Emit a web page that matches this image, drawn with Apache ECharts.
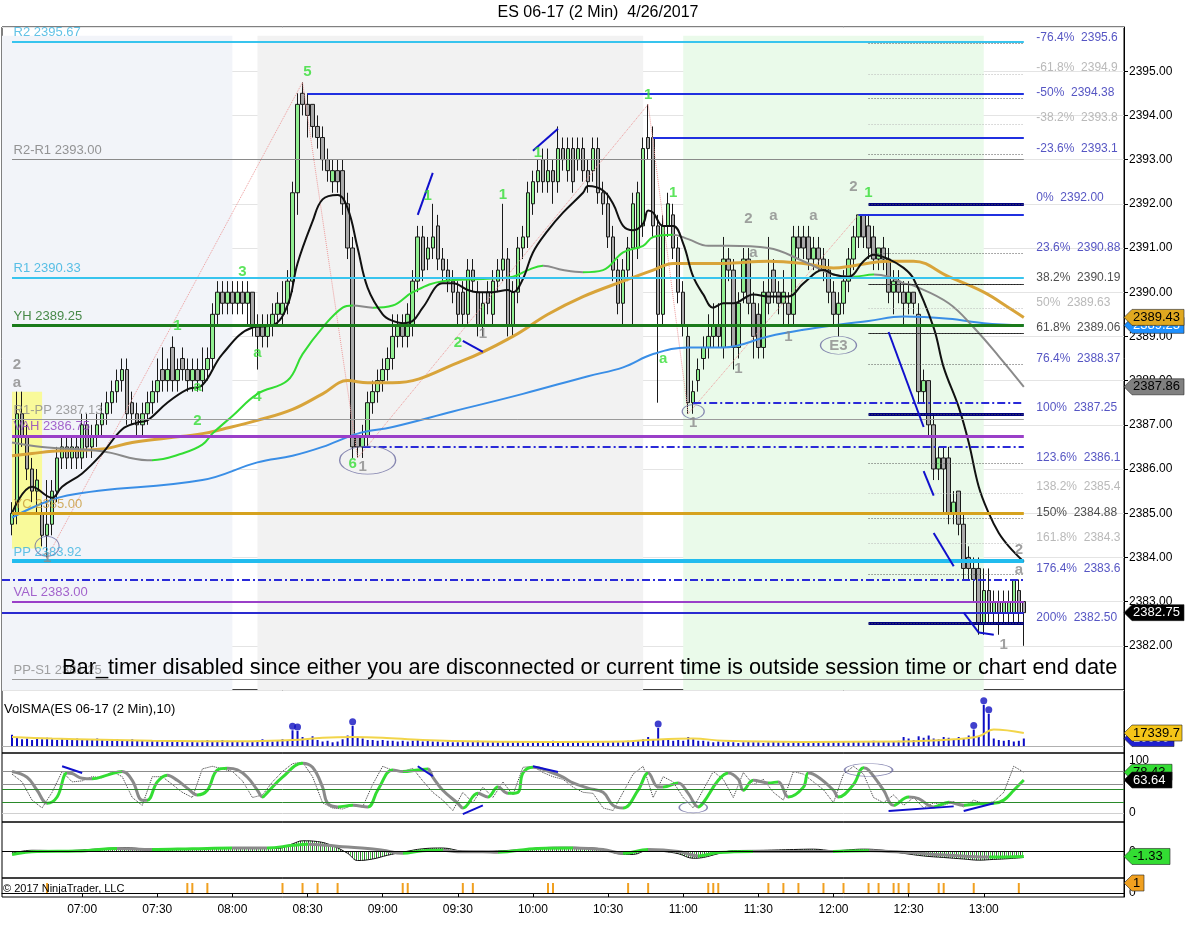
<!DOCTYPE html>
<html><head><meta charset="utf-8">
<script src="https://cdn.jsdelivr.net/npm/echarts@6/dist/echarts.min.js"></script>
<style>html,body{margin:0;padding:0;background:#fff}#c{width:1203px;height:952px}</style>
</head><body><div id="c"></div>
<script>
// ---------------- DATA ----------------
const sessionStart = '06:28';          // first category (2-minute bars)
const barCount = 225;
const firstBar = 2;                    // index of 06:32 bar
// [open, high, low, close] for each 2-min bar from 06:32
const ohlc = [
[2384.75,2385.25,2384.5,2385.0],[2385.0,2387.75,2384.75,2387.25],[2387.25,2387.75,2386.5,2386.75],[2386.75,2387.0,2385.75,2386.0],
[2386.0,2386.25,2385.25,2385.5],[2385.5,2386.0,2385.0,2385.75],[2385.0,2385.25,2384.25,2384.5],[2384.5,2385.75,2384.0,2384.75],
[2384.75,2385.75,2384.5,2385.5],[2385.5,2386.5,2385.25,2386.25],[2386.25,2386.75,2386.0,2386.5],[2386.5,2386.75,2386.0,2386.25],
[2386.25,2386.75,2386.0,2386.5],[2386.5,2386.75,2386.0,2386.25],[2386.25,2387.25,2386.0,2387.0],[2387.0,2387.25,2386.25,2386.5],
[2386.5,2387.0,2386.25,2386.75],[2386.75,2387.25,2386.5,2387.0],[2387.0,2387.5,2386.75,2387.25],[2387.25,2387.75,2387.0,2387.5],
[2387.5,2388.0,2387.25,2387.75],[2387.75,2388.25,2387.5,2388.0],[2388.0,2388.5,2387.75,2388.25],[2388.25,2388.5,2387.0,2387.25],
[2387.5,2387.75,2387.0,2387.25],[2387.25,2387.5,2386.75,2387.0],[2387.0,2387.5,2386.75,2387.25],[2387.25,2387.75,2387.0,2387.5],
[2387.5,2388.0,2387.25,2387.75],[2387.75,2388.5,2387.5,2388.0],[2388.25,2388.75,2387.75,2388.0],[2388.0,2388.5,2387.75,2388.25],
[2388.75,2389.0,2387.75,2388.0],[2388.0,2388.5,2387.75,2388.25],[2388.5,2388.75,2388.0,2388.25],[2388.25,2388.5,2387.75,2388.0],
[2388.0,2388.5,2387.75,2388.25],[2388.25,2388.5,2387.75,2388.0],[2388.0,2388.75,2387.75,2388.25],[2388.25,2388.75,2388.0,2388.5],
[2388.5,2389.75,2388.25,2389.5],[2389.5,2390.25,2389.25,2390.0],[2390.0,2390.25,2389.5,2389.75],[2389.75,2390.25,2389.5,2390.0],
[2390.0,2390.25,2389.5,2389.75],[2389.75,2390.25,2389.5,2390.0],[2390.0,2390.25,2389.5,2389.75],[2389.75,2390.25,2389.25,2390.0],
[2390.0,2390.0,2389.0,2389.25],[2389.25,2389.5,2388.25,2389.0],[2389.25,2389.5,2388.75,2389.0],[2389.0,2389.5,2388.75,2389.25],
[2389.25,2389.75,2389.0,2389.5],[2389.5,2390.0,2389.25,2389.75],[2389.5,2390.25,2389.25,2389.75],[2389.75,2390.5,2389.5,2390.25],
[2390.25,2392.5,2390.0,2392.25],[2392.25,2394.5,2391.75,2394.25],[2394.5,2394.75,2394.0,2394.25],[2394.25,2394.5,2393.5,2394.0],
[2394.25,2394.25,2393.5,2393.75],[2393.75,2394.0,2393.25,2393.5],[2393.5,2393.75,2392.75,2393.0],[2393.0,2393.25,2392.5,2392.75],
[2392.5,2393.0,2392.25,2392.75],[2392.75,2393.0,2392.25,2392.5],[2392.75,2393.0,2391.75,2392.0],[2392.0,2392.25,2390.75,2391.0],
[2391.0,2391.25,2386.25,2386.5],[2386.75,2386.75,2386.25,2386.5],[2386.5,2387.0,2386.25,2386.75],[2386.75,2387.75,2386.5,2387.5],
[2387.5,2388.0,2387.25,2387.75],[2387.75,2388.25,2387.5,2388.0],[2388.0,2388.5,2387.75,2388.25],[2388.25,2388.75,2388.0,2388.5],
[2388.5,2389.5,2388.25,2389.0],[2389.0,2389.5,2388.75,2389.25],[2389.25,2389.5,2388.75,2389.0],[2389.0,2389.75,2388.75,2389.5],
[2389.25,2390.5,2389.0,2390.25],[2390.25,2391.5,2390.0,2391.25],[2391.25,2391.5,2390.25,2390.5],[2390.75,2391.25,2390.5,2391.0],
[2391.0,2392.0,2390.75,2391.25],[2391.5,2391.75,2390.5,2390.75],[2390.75,2391.0,2390.25,2390.5],[2390.5,2390.75,2390.0,2390.25],
[2390.25,2390.5,2389.75,2390.0],[2390.0,2390.25,2389.25,2389.5],[2390.0,2390.25,2389.25,2389.5],[2389.5,2390.75,2389.25,2390.5],
[2390.5,2390.75,2390.0,2390.25],[2390.0,2390.25,2389.0,2389.25],[2389.25,2390.0,2389.0,2389.75],[2390.0,2390.25,2389.5,2389.75],
[2389.5,2390.5,2389.25,2390.25],[2390.25,2390.75,2390.0,2390.5],[2390.5,2392.0,2390.25,2390.75],[2390.75,2391.0,2389.0,2389.25],
[2389.25,2390.25,2389.0,2390.0],[2390.0,2391.25,2389.75,2391.0],[2391.0,2391.5,2390.75,2391.25],[2391.25,2392.5,2391.0,2392.25],
[2392.0,2392.75,2391.75,2392.5],[2392.5,2393.0,2392.25,2392.75],[2393.0,2393.25,2392.25,2392.5],[2392.5,2393.25,2392.25,2392.75],
[2392.75,2393.0,2392.0,2392.5],[2392.5,2393.75,2392.25,2393.25],[2393.25,2393.5,2392.75,2393.0],[2392.75,2393.5,2392.5,2393.25],
[2393.25,2393.5,2392.25,2392.5],[2393.0,2393.5,2392.75,2393.25],[2393.25,2393.5,2392.5,2392.75],[2392.75,2393.0,2392.25,2392.5],
[2392.75,2393.5,2392.5,2393.25],[2393.25,2393.5,2392.0,2392.25],[2392.25,2392.5,2391.75,2392.0],[2392.0,2392.25,2391.0,2391.25],
[2391.25,2391.5,2390.25,2390.5],[2390.5,2390.75,2389.5,2389.75],[2389.75,2390.75,2389.25,2390.5],[2390.5,2391.25,2390.25,2391.0],
[2391.0,2392.25,2389.25,2392.0],[2391.0,2392.5,2390.75,2392.25],[2391.5,2393.5,2391.25,2393.25],[2393.5,2394.25,2393.0,2393.25],
[2393.5,2393.75,2391.25,2391.5],[2391.5,2391.75,2387.5,2389.5],[2389.5,2391.75,2389.25,2391.5],[2391.5,2392.25,2391.25,2392.0],
[2391.75,2392.0,2390.75,2391.0],[2391.0,2391.25,2389.75,2390.0],[2390.0,2390.25,2389.0,2389.25],[2389.0,2389.25,2387.25,2387.5],
[2387.5,2388.0,2387.25,2387.75],[2388.0,2388.5,2387.75,2388.25],[2388.5,2389.0,2388.25,2388.75],[2388.75,2389.5,2388.5,2389.0],
[2389.0,2389.75,2388.75,2389.25],[2389.25,2389.75,2388.75,2389.0],[2388.75,2391.25,2388.5,2390.75],[2390.75,2391.0,2390.25,2390.5],
[2390.5,2390.75,2388.25,2388.75],[2388.75,2390.0,2388.5,2389.75],[2390.0,2391.0,2389.75,2390.75],[2390.75,2391.0,2389.5,2389.75],
[2389.75,2390.0,2388.5,2389.0],[2389.5,2389.75,2388.5,2388.75],[2388.75,2390.25,2388.5,2390.0],[2390.0,2391.25,2389.5,2389.75],
[2390.5,2390.75,2389.75,2390.0],[2390.0,2390.25,2389.5,2389.75],[2389.75,2390.5,2389.25,2390.0],[2389.75,2390.0,2389.25,2389.5],
[2389.5,2391.5,2389.25,2391.25],[2391.25,2391.5,2390.75,2391.0],[2391.25,2391.5,2390.75,2391.0],[2391.25,2391.5,2390.5,2390.75],
[2390.75,2391.25,2390.5,2391.0],[2391.0,2391.25,2390.5,2390.75],[2390.75,2391.0,2390.25,2390.5],[2390.5,2390.75,2389.75,2390.0],
[2390.0,2390.25,2389.25,2389.5],[2389.5,2390.0,2389.0,2389.75],[2389.75,2390.5,2389.5,2390.25],[2390.25,2391.0,2390.0,2390.75],
[2390.75,2391.5,2390.5,2391.25],[2391.25,2391.75,2391.0,2391.75],[2391.75,2391.75,2391.0,2391.25],[2391.5,2391.75,2390.75,2391.0],
[2391.25,2391.5,2390.5,2390.75],[2390.75,2391.0,2390.5,2391.0],[2391.0,2391.25,2390.5,2390.75],[2390.75,2391.0,2389.75,2390.0],
[2390.0,2390.5,2389.5,2390.25],[2390.25,2390.5,2389.75,2390.0],[2390.0,2390.25,2389.25,2389.75],[2389.75,2390.25,2389.5,2390.0],
[2390.0,2390.0,2389.5,2389.75],[2389.5,2389.75,2387.5,2387.75],[2387.75,2388.25,2387.5,2388.0],[2388.0,2388.0,2386.75,2387.0],
[2387.0,2387.25,2385.75,2386.0],[2386.0,2386.5,2385.75,2386.25],[2386.25,2386.5,2385.0,2386.0],[2386.25,2386.5,2384.75,2385.0],
[2385.0,2385.5,2384.75,2385.25],[2385.5,2385.5,2384.5,2384.75],[2384.75,2385.0,2383.5,2383.75],[2384.0,2384.25,2383.5,2383.75],
[2383.75,2384.0,2383.0,2383.5],[2383.75,2384.0,2382.25,2382.5],[2382.5,2383.75,2382.25,2383.25],[2383.25,2383.75,2382.5,2382.75],
[2382.75,2383.25,2382.5,2383.0],[2383.0,2383.25,2382.25,2382.75],[2382.75,2383.25,2382.5,2383.0],[2382.75,2383.25,2382.5,2383.0],
[2382.75,2383.5,2382.5,2383.5],[2383.25,2383.5,2382.5,2382.75],[2383.0,2383.0,2382.0,2382.75]
];
const volume = [
15000,12000,9000,10000,8000,10000,9000,11000,9000,
8000,10000,9000,8000,10000,9000,8000,9000,10000,8000,
7000,8000,9000,8000,7000,9000,8000,7000,6000,7000,
7000,6000,8000,6000,7000,6000,5000,6000,5000,7000,
8000,6000,7000,8000,7000,6000,6000,6000,5000,6000,
7000,9000,8000,6000,8000,9000,7000,21000,20000,12000,
9000,13000,8000,6000,7000,5000,6000,9000,14000,27000,
12000,10000,8000,8000,7000,8000,7000,7000,6000,7000,
6000,7000,8000,6000,7000,6000,6000,5000,6000,5000,
5000,6000,5000,6000,7000,6000,5000,6000,5000,6000,
6000,5000,6000,5000,4000,5000,6000,5000,6000,7000,
6000,5000,6000,5000,6000,5000,5000,4000,5000,5000,
5000,6000,5000,6000,7000,6000,7000,9000,12000,8000,
24000,9000,8000,7000,8000,7000,12000,9000,7000,7000,
6000,5000,6000,5000,6000,5000,4000,5000,6000,5000,
5000,4000,5000,6000,5000,5000,4000,5000,6000,5000,
5000,4000,5000,5000,6000,5000,5000,6000,5000,6000,
6000,5000,6000,7000,6000,6000,5000,6000,7000,12000,
10000,8000,13000,11000,14000,10000,9000,12000,11000,9000,
12000,10000,14000,22000,13000,55000,43000,10000,8000,7000,
8000,6000,7000,10000
];
const volSpikeMin = 20000;
// moving averages [bar index, value]
const maBlack = [[2,2385.0],[6,2385.6],[10,2385.35],[12,2385.6],[16,2385.9],[20,2386.35],[24,2386.9],[27,2387.05],[29,2387.1],[33,2387.5],[37,2387.8],[40,2387.9],[44,2388.6],[50,2389.2],[54,2389.25],[57,2389.7],[59,2390.65],[62,2391.6],[64,2392.1],[67,2392.2],[69,2391.9],[71,2391.0],[73,2390.1],[76,2389.5],[78,2389.35],[80,2389.3],[82,2389.35],[84,2389.65],[88,2390.2],[90,2390.2],[93,2390.05],[95,2390.0],[98,2390.0],[101,2390.05],[102,2390.0],[104,2390.3],[106,2390.9],[109,2391.4],[112,2391.8],[116,2392.25],[117,2392.4],[120,2392.3],[122,2392.0],[124,2391.5],[126,2391.4],[128,2391.55],[129,2391.85],[130,2391.8],[132,2391.5],[134,2391.5],[136,2391.1],[138,2390.35],[140,2389.95],[142,2389.65],[144,2389.75],[146,2389.75],[150,2389.95],[153,2389.9],[157,2389.9],[160,2390.2],[164,2390.5],[166,2390.4],[169,2390.35],[172,2390.7],[174,2390.85],[177,2390.75],[180,2390.55],[182,2390.3],[186,2389.2],[188,2388.3],[191,2387.4],[193,2386.6],[195,2385.6],[197,2385.0],[199,2384.55],[201,2384.25],[204,2383.9]];
const maMid = [[2,2386.6],[8,2386.5],[20,2386.4],[29,2386.2],[30,2386.2],[36,2386.35],[40,2386.55],[42,2386.8],[46,2387.2],[51,2387.7],[57,2388.0],[60,2388.6],[64,2389.2],[68,2389.65],[70,2389.7],[74,2389.65],[78,2389.7],[82,2390.0],[88,2390.25],[96,2390.3],[102,2390.35],[105,2390.5],[108,2390.6],[112,2390.5],[116,2390.45],[120,2390.5],[124,2390.9],[128,2391.05],[130,2391.25],[134,2391.3],[137,2391.2],[141,2391.05],[145,2391.05],[153,2391.0],[160,2390.7],[166,2390.4],[170,2390.35],[174,2390.4],[177,2390.35],[180,2390.2],[182,2390.15],[189,2389.75],[194,2389.2],[199,2388.55],[204,2387.86]];
const maGold = [[2,2386.3],[6,2386.35],[10,2386.4],[20,2386.45],[26,2386.6],[33,2386.7],[40,2386.8],[44,2386.9],[51,2387.1],[58,2387.35],[64,2387.7],[69,2388.0],[73,2387.95],[78,2387.95],[92,2388.45],[102,2389.0],[109,2389.5],[116,2389.9],[124,2390.25],[130,2390.5],[134,2390.65],[144,2390.65],[153,2390.7],[160,2390.65],[166,2390.55],[170,2390.6],[177,2390.7],[182,2390.7],[189,2390.35],[196,2390.0],[201,2389.65],[204,2389.43]];
const maBlue = [[2,2384.9],[13,2385.4],[40,2385.75],[51,2386.15],[58,2386.3],[64,2386.5],[71,2386.8],[78,2386.95],[90,2387.3],[104,2387.7],[117,2388.1],[124,2388.3],[130,2388.6],[137,2388.75],[144,2388.75],[153,2389.0],[160,2389.15],[166,2389.25],[173,2389.35],[180,2389.45],[189,2389.4],[196,2389.3],[204,2389.25]];
const volSma = [[2,12000],[10,10000],[20,8500],[30,7000],[40,6500],[50,6500],[58,8000],[64,11000],[70,12000],[76,11000],[84,8000],[96,6000],[110,5500],[124,6000],[130,8500],[138,10000],[144,7000],[160,5500],[180,6000],[190,9000],[195,13000],[198,22000],[204,17339.7]];
const stochSlow = [[2,80],[5,69],[7,44],[9,19],[11,31],[13,77],[14,76],[16,67],[18,66],[21,73],[24,80],[26,63],[28,25],[29,25],[31,60],[33,73],[35,63],[37,48],[39,35],[41,44],[43,83],[45,86],[47,83],[49,69],[51,44],[52,31],[53,40],[56,69],[60,96],[62,88],[64,50],[65,19],[67,12],[70,15],[73,12],[75,44],[78,83],[80,80],[83,83],[85,85],[86,69],[88,44],[91,19],[92,10],[95,38],[97,31],[99,50],[101,38],[103,40],[104,77],[106,88],[110,77],[112,69],[114,58],[117,48],[120,40],[122,15],[124,10],[127,44],[129,77],[131,50],[132,50],[135,58],[137,38],[139,12],[140,20],[143,63],[145,77],[147,65],[148,44],[150,63],[153,58],[155,60],[157,31],[160,50],[161,77],[163,69],[166,44],[167,31],[170,55],[172,87],[173,83],[176,44],[178,15],[181,31],[183,28],[186,12],[189,21],[192,15],[195,18],[198,19],[200,25],[202,44],[204,63.64]];
const stochFast = [[2,75],[4,60],[6,25],[8,10],[10,40],[12,80],[14,60],[16,62],[18,70],[20,68],[22,80],[24,70],[26,30],[28,15],[30,70],[32,70],[34,55],[36,40],[38,30],[40,85],[42,90],[44,85],[46,80],[48,62],[50,30],[52,35],[54,60],[56,80],[58,95],[60,98],[62,70],[64,20],[66,10],[68,8],[70,15],[72,12],[74,55],[76,90],[78,82],[80,80],[82,86],[84,62],[86,40],[88,25],[90,5],[92,40],[94,20],[96,50],[98,30],[100,60],[102,35],[104,88],[106,90],[108,78],[110,70],[112,65],[114,50],[116,40],[118,38],[120,10],[122,5],[124,40],[126,75],[128,90],[130,30],[132,70],[134,60],[136,30],[138,10],[140,45],[142,80],[144,65],[146,30],[148,78],[150,55],[152,65],[154,40],[156,25],[158,80],[160,75],[162,60],[164,45],[166,20],[168,75],[170,90],[172,75],[174,30],[176,20],[178,35],[180,15],[182,30],[184,10],[186,20],[188,15],[190,22],[192,12],[194,25],[196,18],[198,22],[200,40],[202,90],[204,78.43]];
const macdAvg = [[2,-0.8],[7,0.0],[15,0.1],[23,0.8],[30,0.5],[38,0.7],[46,0.9],[53,0.9],[58,1.6],[61,1.9],[65,1.6],[68,1.2],[73,0.8],[76,0.3],[80,-0.5],[84,0.2],[88,0.3],[91,-0.1],[96,-0.1],[99,-0.2],[107,0.8],[114,0.9],[120,0.5],[124,-0.5],[129,0.5],[135,0.0],[139,-1.2],[143,-0.3],[150,0.0],[158,0.0],[166,0.0],[173,0.2],[181,-0.3],[189,-1.0],[197,-1.5],[204,-1.33]];
const macdLine = [[2,-0.5],[6,0.3],[12,0.2],[20,0.7],[24,1.0],[30,0.6],[40,0.6],[43,0.9],[49,0.9],[55,0.8],[58,2.0],[60,2.8],[63,2.6],[66,1.5],[69,-0.5],[71,-2.4],[74,-2.0],[77,-1.0],[80,-0.2],[84,0.7],[88,0.9],[92,0.1],[96,0.0],[100,0.2],[104,0.5],[108,1.0],[112,1.1],[116,1.0],[120,0.6],[123,-0.6],[126,-0.8],[129,0.3],[132,0.0],[135,-0.6],[138,-1.8],[140,-1.6],[143,-0.6],[146,0.2],[152,0.3],[158,0.5],[162,0.6],[166,0.2],[172,0.6],[176,0.3],[180,-0.5],[184,-1.2],[188,-1.6],[192,-2.0],[195,-2.3],[198,-2.1],[201,-1.9],[204,-1.6]];
const signalBars = [9,37,38,41,56,60,63,67,80,81,92,94,109,110,125,129,141,142,143,153,156,159,164,168,173,175,178,179,181,187,188,194,203];
// pivot levels
const levelNames  = ['R2','R2-R1','R1','YH','R1-PP','VAH','YC','PP','VAL','PP-S1'];
const levelPrices = [2395.67,2393.00,2390.33,2389.25,2387.13,2386.75,2385.00,2383.92,2383.00,2381.25];
// fibonacci levels
const fibPct   = ['-76.4%','-61.8%','-50%','-38.2%','-23.6%','0%','23.6%','38.2%','50%','61.8%','76.4%','100%','123.6%','138.2%','150%','161.8%','176.4%','200%'];
const fibPrice = [2395.63,2394.94,2394.38,2393.81,2393.12,2392.00,2390.88,2390.19,2389.63,2389.06,2388.37,2387.25,2386.13,2385.46,2384.88,2384.31,2383.62,2382.50];
// other drawn price lines: [price, fromBar, toBar]
const segLevels = [[2394.5,61,204],[2393.5,130,204],[2392.0,173,204],[2391.75,171,204],[2387.25,173,204],[2382.5,173,204],[2390.19,173,204],[2389.06,173,204],[2382.75,0,204]];
const dashLevels = [[2387.5,138,204],[2386.5,72,204],[2383.5,0,204]];
// zigzag swing points
const swings = [[9,2384.0],[60,2394.75],[71,2386.25],[129,2394.25],[137,2387.25],[171,2391.75]];
// trend segments
const trendSegs = [[[83,2391.75],[86,2392.7]],[[106,2393.2],[111,2393.7]],[[92,2388.9],[96,2388.65]],[[177,2389.1],[184,2386.95]],[[184,2385.95],[186,2385.4]],[[186,2384.55],[190,2383.8]],[[192,2382.75],[195,2382.3]],[[195,2382.3],[198,2382.25]]];
const stochSegs = [[[12,90],[16,77]],[[83,90],[86,71]],[[92,-2],[96,15]],[[106,90],[111,79]],[[177,4],[190,13]],[[192,4],[198,19]]];
// annotations
const annotText  = ['2','a','1','5','3','1','a','2','a','4','6','1','1','1','2','1','1','1','1','a','1','1','2','a','a','a','1','E3','2','1','2','a','1'];
const annotBar   = [3,3,9,61,48,35,39,39,51,51,70,72,85,100,91,96,107,129,134,132,138,147,149,154,162,150,157,167,170,173,203,203,200];
const annotPrice = [2388.35,2387.95,2384.0,2394.98,2390.45,2389.23,2387.85,2387.1,2388.62,2387.63,2386.11,2386.05,2392.17,2392.2,2388.85,2389.05,2393.15,2394.46,2392.24,2388.5,2387.04,2388.26,2391.65,2391.72,2391.72,2390.9,2389.0,2388.78,2392.38,2392.24,2384.17,2383.72,2382.02];
const annotTone  = ['k','k','k','g','g','g','g','g','g','g','g','k','g','g','g','k','g','g','g','g','k','k','k','k','k','k','k','k','k','g','k','k','k'];
const ringBar = [9,73,138,167], ringPrice = [2384.25,2386.2,2387.3,2388.8];
const stochRingBar = [173,138], stochRingVal = [83,11];

// ---------------- STYLE ----------------
const FONT = '"Liberation Sans", Arial, sans-serif';
const GREEN = '#33dd33', GREY = '#8a8a8a';
const levelColors = ['#38c4ee','#8a8a8a','#38c4ee','#1b7b1b','#9a9a9a','#9a3fc8','#d6a21e','#22bcee','#9a3fc8','#9a9a9a'];
const levelWidths = [2,1,2,3,1,3,3,4,2,1];
const levelLabelColors = ['#3ab3e0','#7a7a7a','#2fb0e0','#1b6e1b','#8a8a8a','#8e3fc0','#c89a38','#3ab3e0','#8e3fc0','#8a8a8a'];
const fibTone = ['b','g','b','g','b','b','b','k','g','k','b','b','b','g','k','g','b','b'];
const fibColorMap = {b:'#2a2ab4', g:'#a8a8a8', k:'#222'};
const segStyles = [['#2030e0',2],['#2030e0',2],['#000080',3],['#2030e0',2],['#000080',3],['#000080',3],['#222',1],['#222',1],['#2a2ad0',2]];
const ringSizes = [[24,20],[56,28],[22,14],[36,18]];
const stochRingSizes = [[48,13],[28,11]];

// ---------------- BUILD ----------------
const categories = [];
(function(){const [h,m]=sessionStart.split(':').map(Number);let t=h*60+m;
 for(let i=0;i<barCount;i++){const mm=t+2*i;categories.push(String(Math.floor(mm/60)).padStart(2,'0')+':'+String(mm%60).padStart(2,'0'));}})();
const C = k => categories[k];
const labelAt = (i, v) => v >= '07:00' && v <= '13:00' && (v.endsWith(':00') || v.endsWith(':30'));

function risePieces(pts){const p=[];for(let i=1;i<pts.length;i++){if(pts[i][1]>pts[i-1][1]){const l=p[p.length-1];if(l&&l.lte===pts[i-1][0])l.lte=pts[i][0];else p.push({gte:pts[i-1][0],lte:pts[i][0],color:GREEN});}}return p;}

const chart = echarts.init(document.getElementById('c'), null, {width:1203, height:952});
const GL = 2, GR = 79;
const grids = [[27,663],[690,63],[753,69],[822,56],[878,19]].map(([t,h])=>({left:GL,right:GR,top:t,height:h,show:true,borderColor:'#000',borderWidth:1,backgroundColor:'transparent'}));

const candleData = ohlc.map((d,i)=>[i+firstBar,d[0],d[3],d[2],d[1]]);
const series = [];
const add = s => { series.push(Object.assign({animation:false},s)); return series.length-1; };

// backgrounds
add({type:'line',xAxisIndex:0,yAxisIndex:0,data:[],z:1,markArea:{silent:true,data:[
 [{xAxis:C(0),yAxis:2381,itemStyle:{color:'#f2f4f9'}},{xAxis:C(46),yAxis:2395.8}],
 [{xAxis:C(51),yAxis:2381,itemStyle:{color:'#f2f2f2'}},{xAxis:C(128),yAxis:2395.8}],
 [{xAxis:C(136),yAxis:2381,itemStyle:{color:'#eafaea'}},{xAxis:C(196),yAxis:2395.8}]
]}});
// candles
add({type:'candlestick',xAxisIndex:0,yAxisIndex:0,z:2,barWidth:4,encode:{x:0,y:[1,2,3,4]},data:candleData,
 itemStyle:{color:'#90ee90',color0:'#a9a9a9',borderColor:'#1a1a1a',borderColor0:'#1a1a1a',borderWidth:1}});
// zigzag
add({type:'line',xAxisIndex:0,yAxisIndex:0,z:3,data:swings,symbol:'none',lineStyle:{color:'#ee9a9a',width:1,type:'dotted'}});
// level lines
const ml = [];
levelPrices.forEach((p,i)=>ml.push([{coord:[C(2),p],lineStyle:{color:levelColors[i],width:levelWidths[i],type:'solid'}},{coord:[C(204),p]}]));
segLevels.forEach((s,i)=>ml.push([{coord:[C(s[1]),s[0]],lineStyle:{color:segStyles[i][0],width:segStyles[i][1],type:'solid'}},{coord:[C(s[2]),s[0]]}]));
dashLevels.forEach(s=>ml.push([{coord:[C(s[1]),s[0]],lineStyle:{color:'#2a2ad8',width:2,type:[8,3,2,3]}},{coord:[C(s[2]),s[0]]}]));
fibPrice.forEach((p,i)=>ml.push([{coord:[C(173),p],lineStyle:{color:fibTone[i]==='g'?'#b8b8b8':'#555',width:1,type:[1,2]}},{coord:[C(204),p]}]));
trendSegs.forEach(s=>ml.push([{coord:[C(s[0][0]),s[0][1]],lineStyle:{color:'#1010cc',width:2,type:'solid'}},{coord:[C(s[1][0]),s[1][1]]}]));
add({type:'line',xAxisIndex:0,yAxisIndex:0,data:[],z:3,markLine:{silent:true,symbol:['none','none'],label:{show:false},data:ml}});
// MAs
add({type:'line',xAxisIndex:0,yAxisIndex:0,z:4,data:maBlue,symbol:'none',smooth:0.4,lineStyle:{color:'#3a8ee6',width:2}});
add({type:'line',xAxisIndex:0,yAxisIndex:0,z:4,data:maGold,symbol:'none',smooth:0.4,lineStyle:{color:'#d8a43a',width:3}});
const maMidIdx = add({type:'line',xAxisIndex:0,yAxisIndex:0,z:4,data:maMid,symbol:'none',smooth:0.4,lineStyle:{width:2}});
add({type:'line',xAxisIndex:0,yAxisIndex:0,z:4,data:maBlack,symbol:'none',smooth:0.4,lineStyle:{color:'#111',width:2}});
// yellow box
add({type:'line',xAxisIndex:0,yAxisIndex:0,data:[],z:6,markArea:{silent:true,itemStyle:{color:'rgba(255,255,60,0.5)'},data:[[{xAxis:C(2),yAxis:2384.2},{xAxis:C(8),yAxis:2387.75}]]}});
// annotations
add({type:'scatter',xAxisIndex:0,yAxisIndex:0,z:6,symbolSize:1,itemStyle:{color:'transparent'},
 data:annotText.map((t,i)=>({value:[annotBar[i],annotPrice[i]],label:{show:true,position:'inside',formatter:t,color:annotTone[i]==='g'?'#33dd33':'#8a8a8a',fontSize:15,fontWeight:'bold',fontFamily:FONT}}))});
add({type:'scatter',xAxisIndex:0,yAxisIndex:0,z:6,symbol:'circle',
 data:ringBar.map((b,i)=>({value:[b,ringPrice[i]],symbolSize:ringSizes[i]})),itemStyle:{color:'transparent',borderColor:'#6c6ca0',borderWidth:1}});
// level labels
add({type:'scatter',xAxisIndex:0,yAxisIndex:0,z:6,symbolSize:1,itemStyle:{color:'transparent'},
 data:levelNames.map((n,i)=>({value:[2,levelPrices[i]],label:{show:true,position:'right',distance:1,offset:[0,-9],formatter:n+' '+levelPrices[i].toFixed(2),color:levelLabelColors[i],fontSize:13,fontFamily:FONT}}))});
// fib labels
add({type:'scatter',xAxisIndex:0,yAxisIndex:0,z:6,symbolSize:1,itemStyle:{color:'transparent'},
 data:fibPct.map((p,i)=>({value:[206,fibPrice[i]],label:{show:true,position:'right',distance:2,offset:[0,-6],formatter:p+'  '+fibPrice[i].toFixed(2),color:fibColorMap[fibTone[i]],fontSize:12,fontFamily:FONT,width:86,overflow:'truncate',ellipsis:''}}))});

// volume
add({type:'bar',xAxisIndex:1,yAxisIndex:1,data:volume.map((v,i)=>[i+firstBar,v]),barWidth:2,itemStyle:{color:'#0c0cc4'},
 markLine:{silent:true,symbol:['none','none'],label:{show:false},lineStyle:{color:'#b0b0b0',width:1,type:'solid'},data:[{yAxis:0}]}});
add({type:'scatter',xAxisIndex:1,yAxisIndex:1,z:5,symbolSize:7,symbolOffset:[0,-4],itemStyle:{color:'#1010c0'},
 data:volume.map((v,i)=>[i+firstBar,v]).filter(d=>d[1]>=volSpikeMin)});
add({type:'line',xAxisIndex:1,yAxisIndex:1,z:4,data:volSma,symbol:'none',smooth:0.4,lineStyle:{color:'#f2d54a',width:2}});

// stochastics
add({type:'line',xAxisIndex:2,yAxisIndex:2,data:[],z:1,markLine:{silent:true,symbol:['none','none'],label:{show:false},data:[
 {yAxis:80,lineStyle:{color:'#8c8c8c',width:1,type:'solid'}},{yAxis:55,lineStyle:{color:'#8c8c8c',width:1,type:'solid'}},
 {yAxis:45,lineStyle:{color:'#2a8a2a',width:1,type:'solid'}},{yAxis:20,lineStyle:{color:'#2a8a2a',width:1,type:'solid'}},
 {yAxis:0,lineStyle:{color:'#d0d0d0',width:1,type:'solid'}},
 ...stochSegs.map(s=>[{coord:[C(s[0][0]),s[0][1]],lineStyle:{color:'#1010cc',width:2,type:'solid'}},{coord:[C(s[1][0]),s[1][1]]}])
]}});
add({type:'line',xAxisIndex:2,yAxisIndex:2,z:3,data:stochFast,symbol:'none',lineStyle:{color:'#333',width:1,type:'dotted'}});
const stochIdx = add({type:'line',xAxisIndex:2,yAxisIndex:2,z:4,data:stochSlow,symbol:'none',smooth:0.4,lineStyle:{width:3}});
add({type:'scatter',xAxisIndex:2,yAxisIndex:2,z:6,symbol:'circle',
 data:stochRingBar.map((b,i)=>({value:[b,stochRingVal[i]],symbolSize:stochRingSizes[i]})),itemStyle:{color:'transparent',borderColor:'#6c6ca0',borderWidth:1}});

// macd
const pc=document.createElement('canvas');pc.width=4;pc.height=2;const g=pc.getContext('2d');
g.fillStyle='#3a3a3a';g.fillRect(0,0,1,2);g.fillStyle='#33cc33';g.fillRect(2,0,1,2);
add({type:'line',xAxisIndex:3,yAxisIndex:3,z:3,data:macdLine,symbol:'none',smooth:0.4,lineStyle:{color:'#111',width:1},
 areaStyle:{color:{image:pc,repeat:'repeat'},opacity:0.9},
 markLine:{silent:true,symbol:['none','none'],label:{show:false},lineStyle:{color:'#000',width:1,type:'solid'},data:[{yAxis:0}]}});
const macdIdx = add({type:'line',xAxisIndex:3,yAxisIndex:3,z:4,data:macdAvg,symbol:'none',smooth:0.4,lineStyle:{width:3}});

// signal ticks
add({type:'bar',xAxisIndex:4,yAxisIndex:4,data:signalBars.map(b=>[b,1]),barWidth:2,itemStyle:{color:'#f0a020'}});

const xAxes = [0,1,2,3,4].map(i=>({type:'category',gridIndex:i,data:categories,boundaryGap:false,
 axisLine:{show:i===4,lineStyle:{color:'#000'}},
 axisTick:{show:i===4,interval:labelAt,length:4,lineStyle:{color:'#000'}},
 axisLabel:{show:i===4,interval:labelAt,color:'#000',fontSize:12,margin:7,fontFamily:FONT},
 splitLine:{show:false}}));
const axisBase = {type:'value',position:'right',axisLine:{show:true,lineStyle:{color:'#000'}},splitLine:{show:false},
 axisTick:{show:true,length:4,lineStyle:{color:'#000'}}};
const yAxes = [
 Object.assign({},axisBase,{gridIndex:0,min:2381,max:2396,interval:1,
  axisLabel:{color:'#000',fontSize:12,margin:5,fontFamily:FONT,formatter:v=>v.toFixed(2),showMinLabel:false,showMaxLabel:false},
  splitLine:{show:true,lineStyle:{color:'#e4e4e4'}}}),
 Object.assign({},axisBase,{gridIndex:1,min:-9300,max:74700,axisLabel:{show:false},axisTick:{show:false}}),
 Object.assign({},axisBase,{gridIndex:2,min:-17,max:115.5,axisLabel:{customValues:[0,100],color:'#000',fontSize:12,margin:5,fontFamily:FONT},axisTick:{customValues:[0,100],length:4,lineStyle:{color:'#000'}}}),
 Object.assign({},axisBase,{gridIndex:3,min:-7,max:7.75,axisLabel:{customValues:[0],color:'#000',fontSize:12,margin:5,fontFamily:FONT},axisTick:{customValues:[0],length:4,lineStyle:{color:'#000'}}}),
 Object.assign({},axisBase,{gridIndex:4,min:-0.4,max:1.5,axisLabel:{customValues:[0],color:'#000',fontSize:12,margin:5,fontFamily:FONT},axisTick:{customValues:[0],length:4,lineStyle:{color:'#000'}}})
];

chart.setOption({
 animation:false,backgroundColor:'#fff',textStyle:{fontFamily:FONT},
 grid:grids,xAxis:xAxes,yAxis:yAxes,
 visualMap:[
  {type:'piecewise',show:false,seriesIndex:maMidIdx,dimension:0,pieces:risePieces(maMid),outOfRange:{color:GREY}},
  {type:'piecewise',show:false,seriesIndex:stochIdx,dimension:0,pieces:risePieces(stochSlow),outOfRange:{color:GREY}},
  {type:'piecewise',show:false,seriesIndex:macdIdx,dimension:0,pieces:risePieces(macdAvg),outOfRange:{color:GREY}}
 ],
 series:series
});

// right-axis value tags, positioned through the axes
function tag(gi, value, text, bg, fg, z, w){
 const y = chart.convertToPixel({gridIndex:gi},[0,value])[1];
 const x0 = 1124;
 return [{type:'polygon',z:z,shape:{points:[[x0,y],[x0+8,y-8],[x0+w,y-8],[x0+w,y+8],[x0+8,y+8]]},style:{fill:bg,stroke:'#222',lineWidth:0.6}},
         {type:'text',z:z+1,x:x0+9,y:y,style:{text:text,fill:fg,font:'13px '+FONT,verticalAlign:'middle',align:'left'}}];
}
const lastClose = ohlc[ohlc.length-1][3];
const last = a => a[a.length-1][1];
const staticTexts = [
  {type:'text',z:50,x:598,y:13,style:{text:'ES 06-17 (2 Min)  4/26/2017',font:'normal 16px '+FONT,fill:'#000',align:'center',verticalAlign:'middle'}},
  {type:'text',z:50,x:62,y:668,style:{text:'Bar_timer disabled since either you are disconnected or current time is outside session time or chart end date',font:'normal 21.8px '+FONT,fill:'#000',align:'left',verticalAlign:'middle'}},
  {type:'text',z:50,x:4,y:709,style:{text:'VolSMA(ES 06-17 (2 Min),10)',font:'normal 13px '+FONT,fill:'#000',align:'left',verticalAlign:'middle'}},
  {type:'text',z:50,x:3,y:889,style:{text:'\u00a9 2017 NinjaTrader, LLC',font:'normal 11px '+FONT,fill:'#000',align:'left',verticalAlign:'middle'}}
];
const tags = [].concat(
 tag(0,last(maBlue),last(maBlue).toFixed(2),'#1e90ff','#fff',60,60),
 tag(0,last(maGold),last(maGold).toFixed(2),'#e0a820','#000',62,60),
 tag(0,last(maMid),last(maMid).toFixed(2),'#808080','#000',64,60),
 tag(0,lastClose,lastClose.toFixed(2),'#000','#fff',66,60),
 tag(1,volume[volume.length-1],String(volume[volume.length-1]),'#2020d0','#fff',60,50),
 tag(1,last(volSma),last(volSma).toFixed(1),'#f5c518','#000',62,58),
 tag(2,last(stochFast),last(stochFast).toFixed(2),'#33dd33','#000',60,48),
 tag(2,last(stochSlow),last(stochSlow).toFixed(2),'#000','#fff',62,48),
 tag(3,last(macdAvg),last(macdAvg).toFixed(2),'#33dd33','#000',60,46),
 tag(4,1,'1','#f0a020','#000',60,20)
);
chart.setOption({graphic:{elements:staticTexts.concat(tags)}});
</script></body></html>
